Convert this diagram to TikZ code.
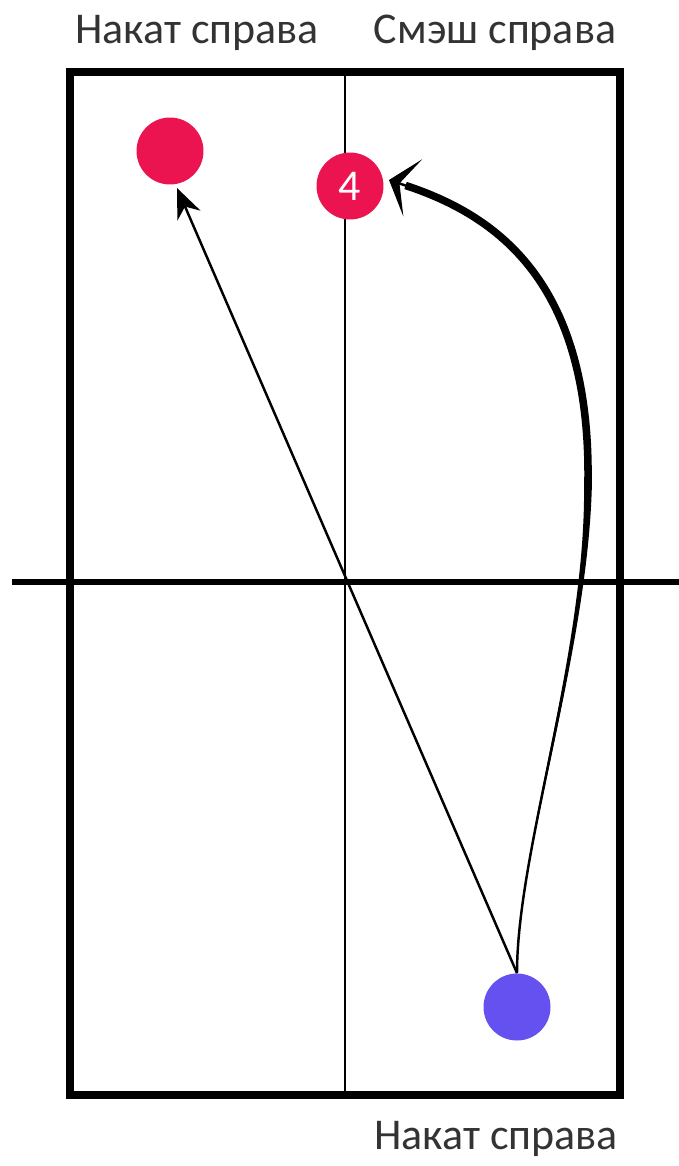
\documentclass[tikz,border=0pt]{standalone}
\usepackage{fontspec}
\setmainfont{Carlito}
\usepackage{xcolor}
\usetikzlibrary{arrows.meta, positioning}

\definecolor{ballred}{HTML}{EB1450}
\definecolor{ballblue}{HTML}{6451F0}
\definecolor{labelgray}{HTML}{333333}

\begin{document}
\begin{tikzpicture}[
    x=0.02cm, y=-0.02cm,
    every node/.style={font=\fontsize{25}{29}\selectfont, text=labelgray, align=center},
    ball/.style={circle, minimum size=1.34cm, inner sep=0pt},
    shotarrow/.style={-{Stealth[length=0.6cm, width=0.5cm]}, line width=1.4pt},
    bigarrow/.style={-{Stealth[length=0.5cm, width=1.2cm, inset=0.28cm]}, line width=1.4pt},
    tableline/.style={line width=4.6pt},
    netline/.style={line width=3.2pt}
]
\useasboundingbox (0,0) rectangle (679,1166);

% Table and net
\node (table) [draw, tableline, minimum width=11cm, minimum height=20.46cm, inner sep=0pt] at (345,583.5) {};
\draw [line width=1pt] (table.north) -- (table.south);
\draw [netline] (12,582) -- (679,582);

% Labels
\node (lblL) at (197,33) {Накат справа};
\node (lblR) at (495,33) {Смэш справа};
\node (lblB) at (496,1139) {Накат справа};

% Balls
\node (redL) [ball, fill=ballred] at (170,151) {};
\node (red4) [ball, fill=ballred, text=white, font=\fontsize{25}{29}\selectfont] at (350,186) {4};
\node (blue) [ball, fill=ballblue] at (517,1007) {};

\coordinate (tipL) at (177,188);
\coordinate (tipR) at (389,180);
\coordinate (bend) at (588,480);

% Shots
\draw [shotarrow] (blue.north) -- (tipL);
\draw [bigarrow] (blue.north) .. controls (517,850) and (588,650) .. (bend)
    .. controls (590,280) and (495,215) .. (tipR);
% thicker stroke above the net
\fill (blue.north) .. controls (516,850) and (587,650) .. (584,480)
    -- (592,480) .. controls (589,650) and (518,850) .. (blue.north);
\draw [line width=4.3pt, shorten >=0.35cm] (bend) .. controls (590,280) and (495,215) .. (tipR);

\end{tikzpicture}
\end{document}
